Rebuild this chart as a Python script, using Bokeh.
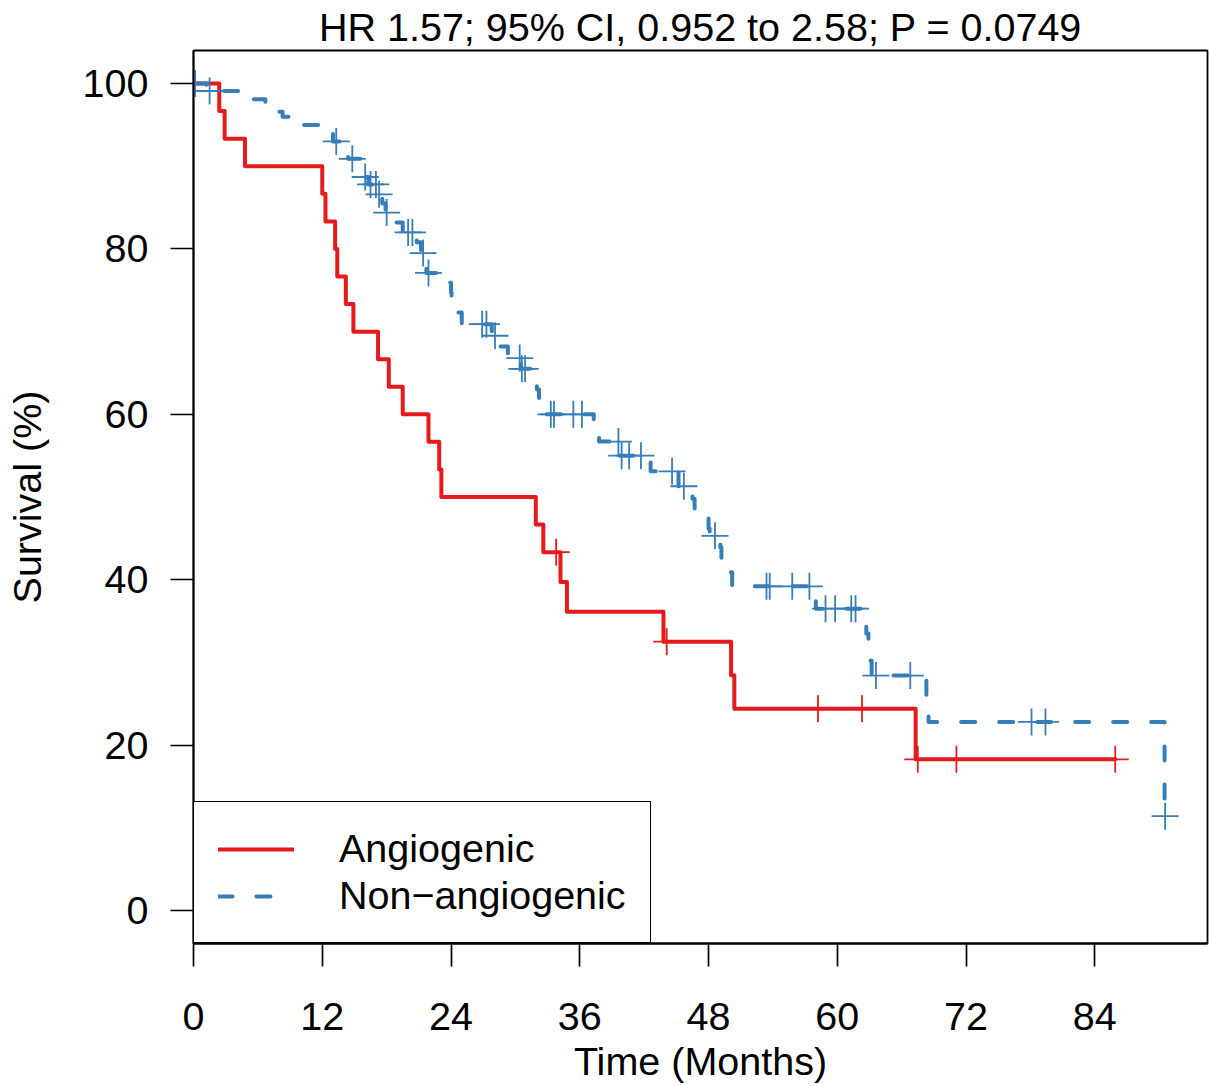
import numpy as np
from bokeh.plotting import figure
from bokeh.models import Range1d, FixedTicker, Legend, LegendItem
from bokeh.embed import file_html
from bokeh.resources import INLINE

# ---- data ----
red_times = [0, 2.4, 2.9, 4.8, 12.0, 12.3, 13.2, 13.4, 14.2, 14.9, 17.2, 18.2, 19.5,
             21.9, 22.9, 23.1, 31.9, 32.6, 34.2, 34.8, 43.8, 50.1, 50.4, 67.3]
red_surv = [100, 96.67, 93.33, 90.0, 86.67, 83.33, 80.0, 76.67, 73.33, 70.0, 66.67,
            63.33, 60.0, 56.67, 53.33, 50.0, 46.67, 43.33, 39.72, 36.11, 32.5, 28.44,
            24.38, 18.28]
red_censor = [33.8, 44.1, 58.2, 62.3, 67.5, 71.1, 85.9]

blue_times = [0, 1.2, 5.0, 6.7, 7.8, 8.3, 10.0, 12.6, 13.0, 14.0, 14.4, 15.8, 15.9,
              16.3, 17.2, 17.6, 17.9, 18.8, 19.5, 20.8, 21.2, 21.5, 21.7, 23.3, 24.0,
              24.05, 24.1, 25.0, 27.8, 28.4, 29.3, 30.5, 31.9, 32.0, 32.2, 32.4, 37.3,
              37.8, 39.7, 42.6, 45.2, 46.5, 46.7, 47.4, 48.0, 48.1, 49.1, 49.2, 49.9,
              50.2, 58.0, 62.7, 62.9, 63.1, 63.2, 68.3, 68.5, 90.5]
blue_surv = [100, 99.1, 98.1, 97.3, 96.6, 96.0, 95.0, 94.0, 93.0, 92.0, 90.9, 90.0,
             88.7, 87.8, 86.6, 85.5, 84.4, 83.2, 82.0, 80.8, 79.5, 78.3, 77.1, 75.9,
             74.7, 73.5, 72.3, 70.9, 69.5, 68.2, 66.8, 65.5, 64.4, 63.0, 61.5, 60.0,
             58.5, 56.7, 55.0, 53.1, 51.3, 49.8, 48.5, 47.4, 46.2, 45.3, 43.9, 42.5,
             40.9, 39.2, 36.5, 33.5, 32.0, 30.2, 28.4, 25.7, 22.8, 11.4]
blue_censor = [0.15, 1.5, 13.3, 14.8, 16.0, 16.5, 17.0, 17.3, 18.0, 20.0, 20.4, 21.4,
               21.9, 26.9, 27.3, 28.1, 30.4, 30.6, 30.9, 33.3, 33.6, 35.4, 36.2, 39.6,
               39.9, 40.6, 41.7, 44.6, 45.7, 48.6, 53.4, 53.7, 55.8, 57.4, 58.9, 59.8,
               61.3, 61.7, 63.6, 66.8, 78.1, 79.4, 90.55]

series_labels = ["Angiogenic", "Non\u2212angiogenic"]
x_ticks = [0, 12, 24, 36, 48, 60, 72, 84]
y_ticks = [0, 20, 40, 60, 80, 100]
title_text = "HR 1.57; 95% CI, 0.952 to 2.58; P = 0.0749"

RED = "#E41A1C"
BLUE = "#377EB8"
FONT = "Liberation Sans"
FS = "39.5px"


def path(times, surv, censor):
    end = max(max(times), max(censor))
    return list(times) + [end], list(surv) + [surv[-1]]


def level_at(times, surv, ts):
    idx = np.searchsorted(np.array(times), np.array(ts), side="right") - 1
    return list(np.array(surv)[idx])


p = figure(width=1209, height=1086, output_backend="svg", toolbar_location=None,
           x_range=Range1d(0, 94.5), y_range=Range1d(-4, 104),
           min_border_left=193, min_border_right=2, min_border_top=50,
           min_border_bottom=143)
p.grid.visible = False
p.outline_line_color = "black"
p.outline_line_width = 1.8
p.outline_line_alpha = 1.0
p.background_fill_color = "white"
p.border_fill_color = "white"

rx, ry = path(red_times, red_surv, red_censor)
bx, by = path(blue_times, blue_surv, blue_censor)

r_red = p.step(rx, ry, mode="after", line_color=RED, line_width=4,
               line_cap="round", line_join="round")
r_blue = p.step(bx, by, mode="after", line_color=BLUE, line_width=4,
                line_dash="14 24", line_cap="round", line_join="round")

p.scatter(red_censor, level_at(red_times, red_surv, red_censor), marker="cross",
          size=27, line_color=RED, line_width=1.8)
p.scatter(blue_censor, level_at(blue_times, blue_surv, blue_censor), marker="cross",
          size=27, line_color=BLUE, line_width=1.8)

for ax, ticks in ((p.xaxis, x_ticks), (p.yaxis, y_ticks)):
    ax.ticker = FixedTicker(ticks=ticks)
    ax.minor_tick_line_color = None
    ax.major_tick_in = 0
    ax.major_tick_out = 23
    ax.major_tick_line_width = 1.7
    ax.major_tick_line_color = "black"
    ax.axis_line_color = "black"
    ax.axis_line_width = 1.8
    ax.major_label_text_font = FONT
    ax.major_label_text_font_size = FS
    ax.major_label_text_color = "black"
    ax.axis_label_text_font = FONT
    ax.axis_label_text_font_size = FS
    ax.axis_label_text_font_style = "normal"
    ax.axis_label_text_color = "black"

p.xaxis.axis_label = "Time (Months)"
p.yaxis.axis_label = "Survival (%)"
p.xaxis.major_label_standoff = 36
p.xaxis.axis_label_standoff = 6
p.yaxis.major_label_standoff = 22
p.yaxis.axis_label_standoff = 31

p.title.text = title_text
p.title.align = "center"
p.title.text_font = FONT
p.title.text_font_size = FS
p.title.text_font_style = "normal"
p.title.text_color = "black"
p.title.standoff = 3

legend = Legend(items=[LegendItem(label=series_labels[0], renderers=[r_red]),
                       LegendItem(label=series_labels[1], renderers=[r_blue])],
                location="bottom_left", margin=0, padding=24, spacing=2,
                glyph_width=76, glyph_height=40, label_height=40,
                label_standoff=45, label_text_font=FONT, label_text_font_size=FS,
                label_text_color="black",
                border_line_color="black", border_line_width=1.8,
                border_line_alpha=1.0,
                background_fill_color="white", background_fill_alpha=1.0)
p.add_layout(legend)

open("out.html", "w").write(file_html(p, INLINE))
